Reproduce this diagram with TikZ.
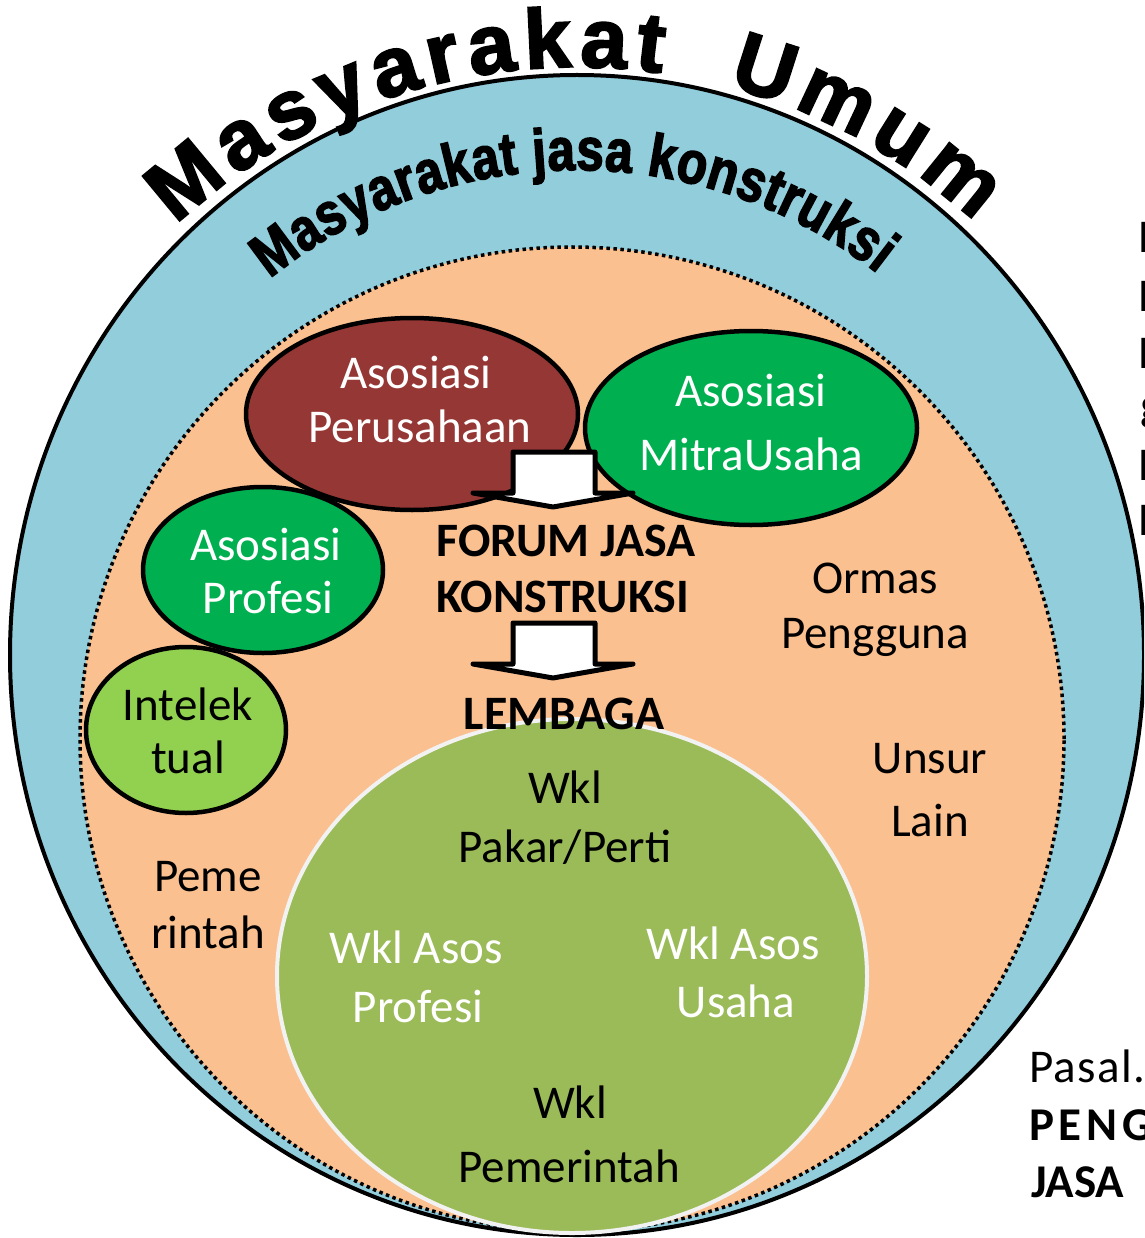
\documentclass[tikz,border=0pt]{standalone}
\usepackage{fontspec}
\setmainfont{Carlito}
\newfontfamily\umumfont{Liberation Sans}[UprightFont={* Bold},FakeBold=2.5]
\newfontfamily\jasafont{Liberation Sans}[UprightFont={* Bold},FakeStretch=0.82,FakeBold=2.5]
\usetikzlibrary{shapes.geometric,decorations.text}
\definecolor{outerblue}{HTML}{92CDDC}
\definecolor{peach}{HTML}{FAC090}
\definecolor{darkred}{HTML}{953735}
\definecolor{midgreen}{HTML}{00B050}
\definecolor{limegreen}{HTML}{92D050}
\definecolor{olivegreen}{HTML}{9BBB59}
\definecolor{ringwhite}{HTML}{F2F2F2}
\begin{document}
\begin{tikzpicture}[x=1pt,y=-1pt,
  assoc/.style={ellipse, draw=black, line width=4.5pt, inner sep=0pt},
  lbl/.style={inner sep=0pt, anchor=base, font=\fontsize{47}{56}\selectfont},
  wlbl/.style={lbl, text=white},
  blbl/.style={inner sep=0pt, anchor=base, font=\bfseries\fontsize{48}{56}\selectfont},
  sidelbl/.style={inner sep=0pt, anchor=base west, font=\fontsize{47}{56}\selectfont},
  sideblbl/.style={inner sep=0pt, anchor=base west, font=\bfseries\fontsize{47}{56}\selectfont},
  blockarrow/.style={draw=black, fill=white, line width=5pt, line join=round},
]
\useasboundingbox (0,0) rectangle (1144,1238);
\clip (0,0) rectangle (1144,1238);

% rings
\node[ellipse, minimum width=1134pt, minimum height=1160pt, inner sep=0pt,
      fill=outerblue, draw=black, line width=4pt] (society) at (577,655) {};
\node[circle, minimum size=984pt, inner sep=0pt, fill=peach, draw=black,
      line width=3.5pt, dash pattern=on 3.5pt off 3.5pt] (construction) at (572,739) {};
\node[ellipse, minimum width=590pt, minimum height=514pt, inner sep=0pt,
      fill=olivegreen, draw=ringwhite, line width=4pt] (lembaga) at (572,976) {};

% associations
\node[assoc, fill=darkred, minimum width=332pt, minimum height=192pt] (perusahaan) at (412,414) {};
\node[assoc, fill=midgreen, minimum width=332pt, minimum height=194pt] (mitra) at (751,428) {};
\node[assoc, fill=midgreen, minimum width=240pt, minimum height=166pt] (profesi) at (263,570) {};
\node[assoc, fill=limegreen, minimum width=200pt, minimum height=166pt] (intelek) at (186,730) {};

% block arrows
\path[blockarrow] (513,452) -- (595,452) -- (595,493) -- (633,493) -- (553,507)
   -- (473,493) -- (513,493) -- cycle;
\path[blockarrow] (513,623) -- (595,623) -- (595,664) -- (633,664) -- (553,678)
   -- (473,664) -- (513,664) -- cycle;

% curved titles
\path[decorate, decoration={text along path,
   text={|\umumfont\fontsize{84}{84}\selectfont|Masyarakat{\kern52pt}Umum},
   text align={fit to path}}]
   ([shift={(-133:588)}]577,655) arc[start angle=-133, end angle=-47.5, radius=588];
\path[decorate, decoration={text along path,
   text={|\jasafont\fontsize{60}{60}\selectfont|Masyarakat jasa konstruksi},
   text align={fit to path}}]
   ([shift={(-129:488)}]577,658) arc[start angle=-129, end angle=-52, radius=488];

% labels in the ellipses
\node[wlbl] (perA) at (416,388) {Asosiasi};
\node[wlbl] (perB) at (420,442) {Perusahaan};
\node[wlbl] (mitA) at (751,406) {Asosiasi};
\node[wlbl] (mitB) at (751,470) {Mitra\kern1pt Usaha};
\node[wlbl] (proA) at (266,560) {Asosiasi};
\node[wlbl] (proB) at (268,613) {Profesi};
\node[lbl] (intA) at (188,720) {Intelek};
\node[lbl] (intB) at (188,773) {tual};

% central texts
\node[blbl] (forumA) at (566,556) {FORUM JASA};
\node[blbl] (forumB) at (563,612) {KONSTRUKSI};
\node[blbl] (lembagaT) at (564,729) {LEMBAGA};

% loose labels
\node[lbl] (ormA) at (875,593) {Ormas};
\node[lbl] (ormB) at (875,648) {Pengguna};
\node[lbl] (unsA) at (930,773) {Unsur};
\node[lbl] (unsB) at (930,836) {Lain};
\node[lbl] (pemA) at (208,891) {Peme};
\node[lbl] (pemB) at (208,948) {rintah};

% inside LEMBAGA
\node[lbl] (wklA) at (565,803) {Wkl};
\node[lbl] (wklB) at (565,862) {Pakar/Perti};
\node[wlbl] (wapA) at (416,963) {Wkl Asos};
\node[wlbl] (wapB) at (418,1022) {Profesi};
\node[wlbl] (wauA) at (733,959) {Wkl Asos};
\node[wlbl] (wauB) at (736,1017) {Usaha};
\node[lbl] (wpmA) at (570,1118) {Wkl};
\node[lbl] (wpmB) at (569,1182) {Pemerintah};

% cut-off side texts
\node[sidelbl] (sideA) at (1138,253) {P};
\node[sidelbl] (sideB) at (1138,312) {P};
\node[sidelbl] (sideC) at (1138,368) {P};
\node[sidelbl] (sideD) at (1140,420) {g};
\node[sidelbl] (sideE) at (1138,480) {P};
\node[sidelbl] (sideF) at (1138,535) {P};
\node[sidelbl, font=\addfontfeatures{LetterSpace=3}\fontsize{47}{56}\selectfont] (pasal) at (1029,1082) {Pasal.};
\node[sideblbl, font=\bfseries\addfontfeatures{LetterSpace=10}\fontsize{47}{56}\selectfont] (peng) at (1029,1140) {PENG};
\node[sideblbl] (jasa) at (1031,1197) {JASA};
\end{tikzpicture}
\end{document}
